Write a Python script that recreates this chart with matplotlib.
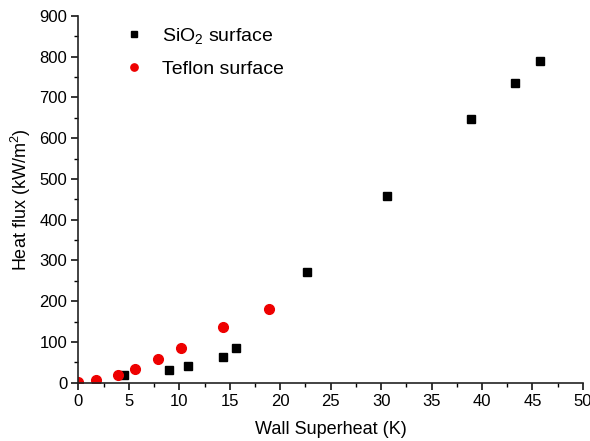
import matplotlib
matplotlib.use('Agg')
import matplotlib.pyplot as plt
from matplotlib.ticker import MultipleLocator

plt.rcParams['font.family'] = ['Liberation Sans', 'DejaVu Sans']
plt.rcParams['mathtext.default'] = 'regular'

# SiO2 surface
sio2_dt = [4.5, 9.0, 10.9, 14.3, 15.6, 22.7, 30.6, 38.9, 43.3, 45.7]
sio2_q = [18, 31, 42, 63, 85, 272, 459, 646, 735, 789]

# Teflon surface
teflon_dt = [0.0, 1.7, 3.9, 5.6, 7.9, 10.2, 14.3, 18.9]
teflon_q = [3, 8, 20, 35, 59, 86, 136, 181]

fig = plt.figure(figsize=(5.9, 4.41), dpi=100)
ax = fig.add_axes([0.133, 0.132, 0.855, 0.832])

ax.plot(sio2_dt, sio2_q, 's', color='black', markersize=6.2, linestyle='none',
        label='SiO$_2$ surface')
ax.plot(teflon_dt, teflon_q, 'o', color='#ee0000', markersize=7, linestyle='none',
        label='Teflon surface')

ax.set_xlim(0, 50)
ax.set_ylim(0, 900)
ax.xaxis.set_major_locator(MultipleLocator(5))
ax.xaxis.set_minor_locator(MultipleLocator(2.5))
ax.yaxis.set_major_locator(MultipleLocator(100))
ax.yaxis.set_minor_locator(MultipleLocator(50))

for s in ['top', 'right']:
    ax.spines[s].set_visible(False)
for s in ['left', 'bottom']:
    ax.spines[s].set_linewidth(1.2)
    ax.spines[s].set_color('#222222')

ax.tick_params(which='major', direction='out', length=5, width=1.1, labelsize=12, pad=3)
ax.tick_params(which='minor', direction='out', length=3, width=1.0)

ax.set_xlabel('Wall Superheat (K)', fontsize=13, labelpad=9)
ax.set_ylabel('Heat flux (kW/m$^2$)', fontsize=13, labelpad=5)

leg = ax.legend(loc='upper left', bbox_to_anchor=(0.058, 1.02), frameon=False,
                fontsize=14, markerscale=0.75, handlelength=0.9, handletextpad=1.0,
                labelspacing=0.72)

fig.savefig('out.png', dpi=100)
